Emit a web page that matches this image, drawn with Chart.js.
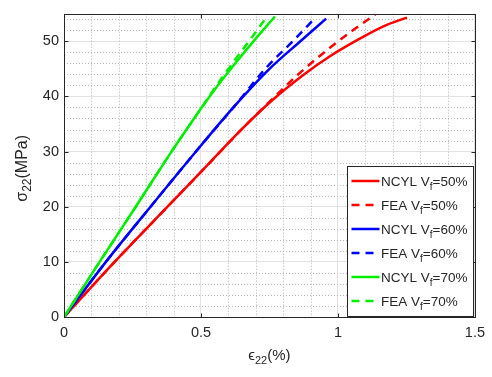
<!DOCTYPE html>
<html>
<head>
<meta charset="utf-8">
<script src="https://cdn.jsdelivr.net/npm/chart.js@4/dist/chart.umd.min.js"></script>
<style>
  html, body { margin: 0; padding: 0; background: #fff; }
  #wrap { width: 492px; height: 377px; }
</style>
</head>
<body>
<div id="wrap"><canvas id="chart" width="492" height="377"></canvas></div>
<script>
// Axis ticks
const xTicks = [0, 0.5, 1, 1.5];
const yTicks = [0, 10, 20, 30, 40, 50];
const xMinorStep = 0.1;
const yMinorStep = 2;

// Transverse stress-strain curves: strain (%) and stress (MPa)
const ncyl50Strain = [0, 0.183, 0.378, 0.5, 0.65, 0.76, 0.882, 0.968, 1.07, 1.17, 1.252];
const ncyl50Stress = [0, 9.9, 20, 26.3, 34.1, 39.3, 44.2, 47.2, 50.2, 52.8, 54.3];
const fea50Strain  = [0, 0.183, 0.378, 0.5, 0.65, 0.76, 0.855, 0.975, 1.052, 1.137];
const fea50Stress  = [0, 9.9, 20, 26.3, 34.1, 39.5, 44, 49, 51.9, 54.9];
const ncyl60Strain = [0, 0.153, 0.316, 0.5, 0.62, 0.75, 0.865, 0.957];
const ncyl60Stress = [0, 10, 20, 31.1, 38.1, 45, 50.1, 54.1];
const fea60Strain  = [0, 0.153, 0.316, 0.5, 0.62, 0.74, 0.835, 0.918];
const fea60Stress  = [0, 10, 20, 31.1, 38.1, 45.3, 50, 54.3];
const ncyl70Strain = [0, 0.13, 0.262, 0.39, 0.45, 0.5, 0.56, 0.63, 0.69, 0.77];
const ncyl70Stress = [0, 10, 20, 29.8, 34.2, 37.8, 41.9, 46.3, 49.9, 54.5];
const fea70Strain  = [0, 0.13, 0.262, 0.39, 0.45, 0.5, 0.55, 0.615, 0.675, 0.74];
const fea70Stress  = [0, 10, 20, 29.8, 34.2, 37.8, 41.5, 46, 50, 54.4];

const seriesLabels = ['NCYL V_f=50%', 'FEA V_f=50%', 'NCYL V_f=60%', 'FEA V_f=60%', 'NCYL V_f=70%', 'FEA V_f=70%'];
const seriesColors = ['#ff0000', '#ff0000', '#0000ff', '#0000ff', '#00ee00', '#00ee00'];
const seriesDashed = [false, true, false, true, false, true];
const seriesData = [
  [ncyl50Strain, ncyl50Stress], [fea50Strain, fea50Stress],
  [ncyl60Strain, ncyl60Stress], [fea60Strain, fea60Stress],
  [ncyl70Strain, ncyl70Stress], [fea70Strain, fea70Stress]
];

const xTitle = 'ϵ_{22}(%)';
const yTitle = 'σ_{22}(MPa)';

const FONT = '"Liberation Sans", Arial, Helvetica, sans-serif';
const TEXT_COLOR = '#262626';
const DASH = [8, 6];

// Split "A_{bc}D" / "A_bD" into normal and subscript runs
function parseRich(text) {
  const runs = [];
  let i = 0, buf = '';
  while (i < text.length) {
    if (text[i] === '_') {
      if (buf) { runs.push({ t: buf, sub: false }); buf = ''; }
      if (text[i + 1] === '{') {
        const end = text.indexOf('}', i);
        runs.push({ t: text.slice(i + 2, end), sub: true });
        i = end + 1;
      } else {
        runs.push({ t: text[i + 1], sub: true });
        i += 2;
      }
    } else { buf += text[i]; i++; }
  }
  if (buf) runs.push({ t: buf, sub: false });
  return runs;
}

function richWidth(ctx, runs, size, subSize) {
  let w = 0;
  for (const r of runs) {
    ctx.font = (r.sub ? subSize : size) + 'px ' + FONT;
    w += ctx.measureText(r.t).width;
  }
  return w;
}

function drawRich(ctx, text, x, y, size, subSize, subShift) {
  const runs = parseRich(text);
  ctx.textBaseline = 'alphabetic';
  ctx.textAlign = 'left';
  let cx = x;
  for (const r of runs) {
    ctx.font = (r.sub ? subSize : size) + 'px ' + FONT;
    ctx.fillText(r.t, cx, r.sub ? y + subShift : y);
    cx += ctx.measureText(r.t).width;
  }
  return cx - x;
}

const decorations = {
  id: 'decorations',
  beforeDatasetsDraw(chart) {
    const { ctx, chartArea: a, scales: { x, y } } = chart;
    ctx.save();
    ctx.strokeStyle = '#b4b4b4';
    ctx.lineWidth = 1;
    ctx.setLineDash([1, 2]);
    const nx = Math.round((x.max - x.min) / xMinorStep);
    for (let k = 1; k < nx; k++) {
      const v = x.min + k * xMinorStep;
      if (xTicks.some(t => Math.abs(t - v) < 1e-9)) continue;
      const px = Math.round(x.getPixelForValue(v)) + 0.5;
      ctx.beginPath(); ctx.moveTo(px, a.top); ctx.lineTo(px, a.bottom); ctx.stroke();
    }
    const ny = Math.round((y.max - y.min) / yMinorStep);
    for (let k = 1; k <= ny; k++) {
      const v = y.min + k * yMinorStep;
      if (v >= y.max) break;
      if (yTicks.some(t => Math.abs(t - v) < 1e-9)) continue;
      const py = Math.round(y.getPixelForValue(v)) + 0.5;
      ctx.beginPath(); ctx.moveTo(a.left, py); ctx.lineTo(a.right, py); ctx.stroke();
    }
    ctx.restore();
  },
  afterDatasetsDraw(chart) {
    const { ctx, chartArea: a, scales: { x, y } } = chart;
    ctx.save();
    // axes box with inward ticks
    ctx.strokeStyle = TEXT_COLOR;
    ctx.lineWidth = 1;
    ctx.setLineDash([]);
    const L = Math.round(a.left) + 0.5, R = Math.round(a.right) + 0.5;
    const T = Math.round(a.top) + 0.5, B = Math.round(a.bottom) + 0.5;
    ctx.strokeRect(L, T, R - L, B - T);
    const tl = 4;
    ctx.beginPath();
    for (const v of xTicks) {
      const px = Math.round(x.getPixelForValue(v)) + 0.5;
      ctx.moveTo(px, B); ctx.lineTo(px, B - tl);
      ctx.moveTo(px, T); ctx.lineTo(px, T + tl);
    }
    for (const v of yTicks) {
      const py = Math.round(y.getPixelForValue(v)) + 0.5;
      ctx.moveTo(L, py); ctx.lineTo(L + tl, py);
      ctx.moveTo(R, py); ctx.lineTo(R - tl, py);
    }
    ctx.stroke();

    // legend
    const lw = 126, lh = 150;
    const lx = Math.round(a.right - 2 - lw) + 0.5;
    const ly = Math.round(a.bottom - 1 - lh) + 0.5;
    ctx.fillStyle = '#ffffff';
    ctx.fillRect(lx, ly, lw, lh);
    ctx.strokeStyle = TEXT_COLOR;
    ctx.strokeRect(lx, ly, lw, lh);
    chart.data.datasets.forEach((ds, i) => {
      const cy = ly + 14.5 + i * 24;
      ctx.strokeStyle = ds.borderColor;
      ctx.lineWidth = 2.5;
      ctx.setLineDash(ds.borderDash || []);
      ctx.beginPath();
      ctx.moveTo(lx + 4, cy); ctx.lineTo(lx + 32, cy);
      ctx.stroke();
      ctx.setLineDash([]);
      ctx.fillStyle = TEXT_COLOR;
      drawRich(ctx, ds.label, lx + 33.5, cy + 5, 13.5, 10, 4);
    });
    ctx.restore();
  },
  afterDraw(chart) {
    const { ctx, chartArea: a } = chart;
    ctx.save();
    ctx.fillStyle = TEXT_COLOR;
    // x axis title
    const xr = parseRich(xTitle);
    const xw = richWidth(ctx, xr, 15, 11);
    drawRich(ctx, xTitle, (a.left + a.right) / 2 - xw / 2, 360, 15, 11, 4);
    // y axis title, rotated
    const yr = parseRich(yTitle);
    const yw = richWidth(ctx, yr, 16, 12);
    ctx.translate(27, (a.top + a.bottom) / 2 + 3);
    ctx.rotate(-Math.PI / 2);
    drawRich(ctx, yTitle, -yw / 2, 0, 16, 12, 4);
    ctx.restore();
  }
};

const datasets = seriesData.map((pair, i) => ({
  label: seriesLabels[i],
  data: pair[0].map((sx, k) => ({ x: sx, y: pair[1][k] })),
  borderColor: seriesColors[i],
  backgroundColor: seriesColors[i],
  borderWidth: 2.5,
  borderDash: seriesDashed[i] ? DASH : [],
  pointRadius: 0,
  cubicInterpolationMode: 'monotone',
  fill: false,
  order: seriesData.length - i
}));

new Chart(document.getElementById('chart'), {
  type: 'line',
  data: { datasets },
  plugins: [decorations],
  options: {
    responsive: false,
    devicePixelRatio: 1,
    animation: false,
    layout: { padding: { top: 4, right: 16, left: 0, bottom: 0 } },
    plugins: { legend: { display: false }, tooltip: { enabled: false } },
    scales: {
      x: {
        type: 'linear', min: 0, max: 1.5,
        afterBuildTicks: s => { s.ticks = xTicks.map(v => ({ value: v })); },
        afterFit: s => { s.height = 60; },
        grid: { color: '#e2e2e2', drawTicks: false, lineWidth: 1 },
        border: { display: false },
        ticks: {
          padding: 7, color: TEXT_COLOR, maxRotation: 0,
          font: { family: FONT, size: 14.5 },
          callback: v => String(v)
        }
      },
      y: {
        type: 'linear', min: 0, max: 55,
        afterBuildTicks: s => { s.ticks = yTicks.map(v => ({ value: v })); },
        afterFit: s => { s.width = 64; },
        grid: { color: '#e2e2e2', drawTicks: false, lineWidth: 1 },
        border: { display: false },
        ticks: {
          padding: 5, color: TEXT_COLOR,
          font: { family: FONT, size: 14.5 },
          callback: v => String(v)
        }
      }
    }
  }
});
</script>
</body>
</html>
